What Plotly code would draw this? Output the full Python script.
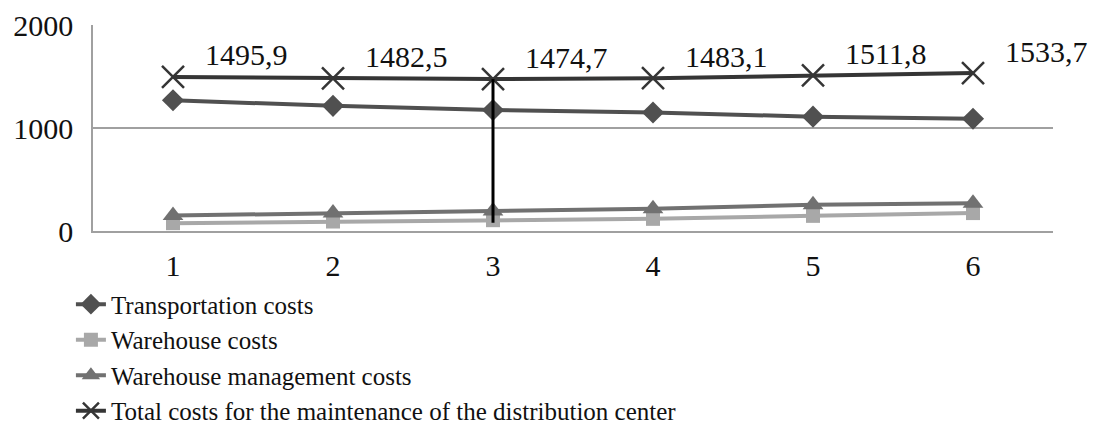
import plotly.graph_objs as go

# data
periods = [1, 2, 3, 4, 5, 6]
transportation = [1270, 1215, 1175, 1150, 1110, 1090]
warehouse = [76, 92, 105, 118, 147, 174]
management = [150, 175, 195, 215, 255, 270]
total = [1495.9, 1482.5, 1474.7, 1483.1, 1511.8, 1533.7]
total_labels = ["1495,9", "1482,5", "1474,7", "1483,1", "1511,8", "1533,7"]

FONT = "Liberation Serif, Times New Roman, serif"

fig = go.Figure()

fig.add_trace(go.Scatter(
    x=periods, y=transportation, mode="lines+markers",
    name="Transportation costs",
    line=dict(color="#505050", width=4),
    marker=dict(symbol="diamond", size=17, color="#505050"),
))
fig.add_trace(go.Scatter(
    x=periods, y=warehouse, mode="lines+markers",
    name="Warehouse costs",
    line=dict(color="#a8a8a8", width=4),
    marker=dict(symbol="square", size=14, color="#a8a8a8"),
))
fig.add_trace(go.Scatter(
    x=periods, y=management, mode="lines+markers",
    name="Warehouse management costs",
    line=dict(color="#717171", width=4),
    marker=dict(symbol="triangle-up", size=18, color="#717171"),
))
fig.add_trace(go.Scatter(
    x=periods, y=total, mode="lines+markers",
    name="Total costs for the maintenance of the distribution center",
    line=dict(color="#353535", width=4),
    marker=dict(symbol="x-thin-open", size=22, line=dict(color="#353535", width=2.5)),
))

# drop line at period 3
fig.add_trace(go.Scatter(
    x=[periods[2], periods[2]], y=[warehouse[2] - 25, total[2]], mode="lines",
    line=dict(color="#000000", width=3), showlegend=False, hoverinfo="skip",
))

# value labels for the total, placed up and right of each marker
for p, v, lab in zip(periods, total, total_labels):
    fig.add_annotation(
        x=p, y=v, text=lab, showarrow=False,
        xanchor="left", yanchor="middle", xshift=30, yshift=22,
        font=dict(family=FONT, size=30, color="#111111"),
    )

# the page body has an 8px margin; figure is taller than the window so the
# legend has room below the plot without pushing the margins
fig.update_layout(
    width=1115, height=470,
    margin=dict(l=85, r=70, t=17, b=247),
    plot_bgcolor="white", paper_bgcolor="white",
    font=dict(family=FONT, size=30, color="#111111"),
    showlegend=True,
    legend=dict(
        x=-0.023, y=-0.245, xanchor="left", yanchor="top",
        font=dict(family=FONT, size=25, color="#111111"),
        bgcolor="rgba(0,0,0,0)", tracegroupgap=0,
    ),
    xaxis=dict(
        range=[0.5, 6.5], tickvals=periods, showgrid=False, zeroline=False,
        showline=True, linecolor="#a0a0a0", linewidth=1.5, ticks="",
        ticklabelstandoff=7, tickfont=dict(family=FONT, size=30), automargin=False,
    ),
    yaxis=dict(
        range=[0, 2000], tickvals=[0, 1000, 2000], showgrid=True,
        gridcolor="#a0a0a0", gridwidth=1.5, showline=True, linecolor="#a0a0a0",
        linewidth=1.5, zeroline=False, ticks="", ticklabelstandoff=12,
        tickfont=dict(family=FONT, size=30), automargin=False,
    ),
)

fig.write_html("out.html")
